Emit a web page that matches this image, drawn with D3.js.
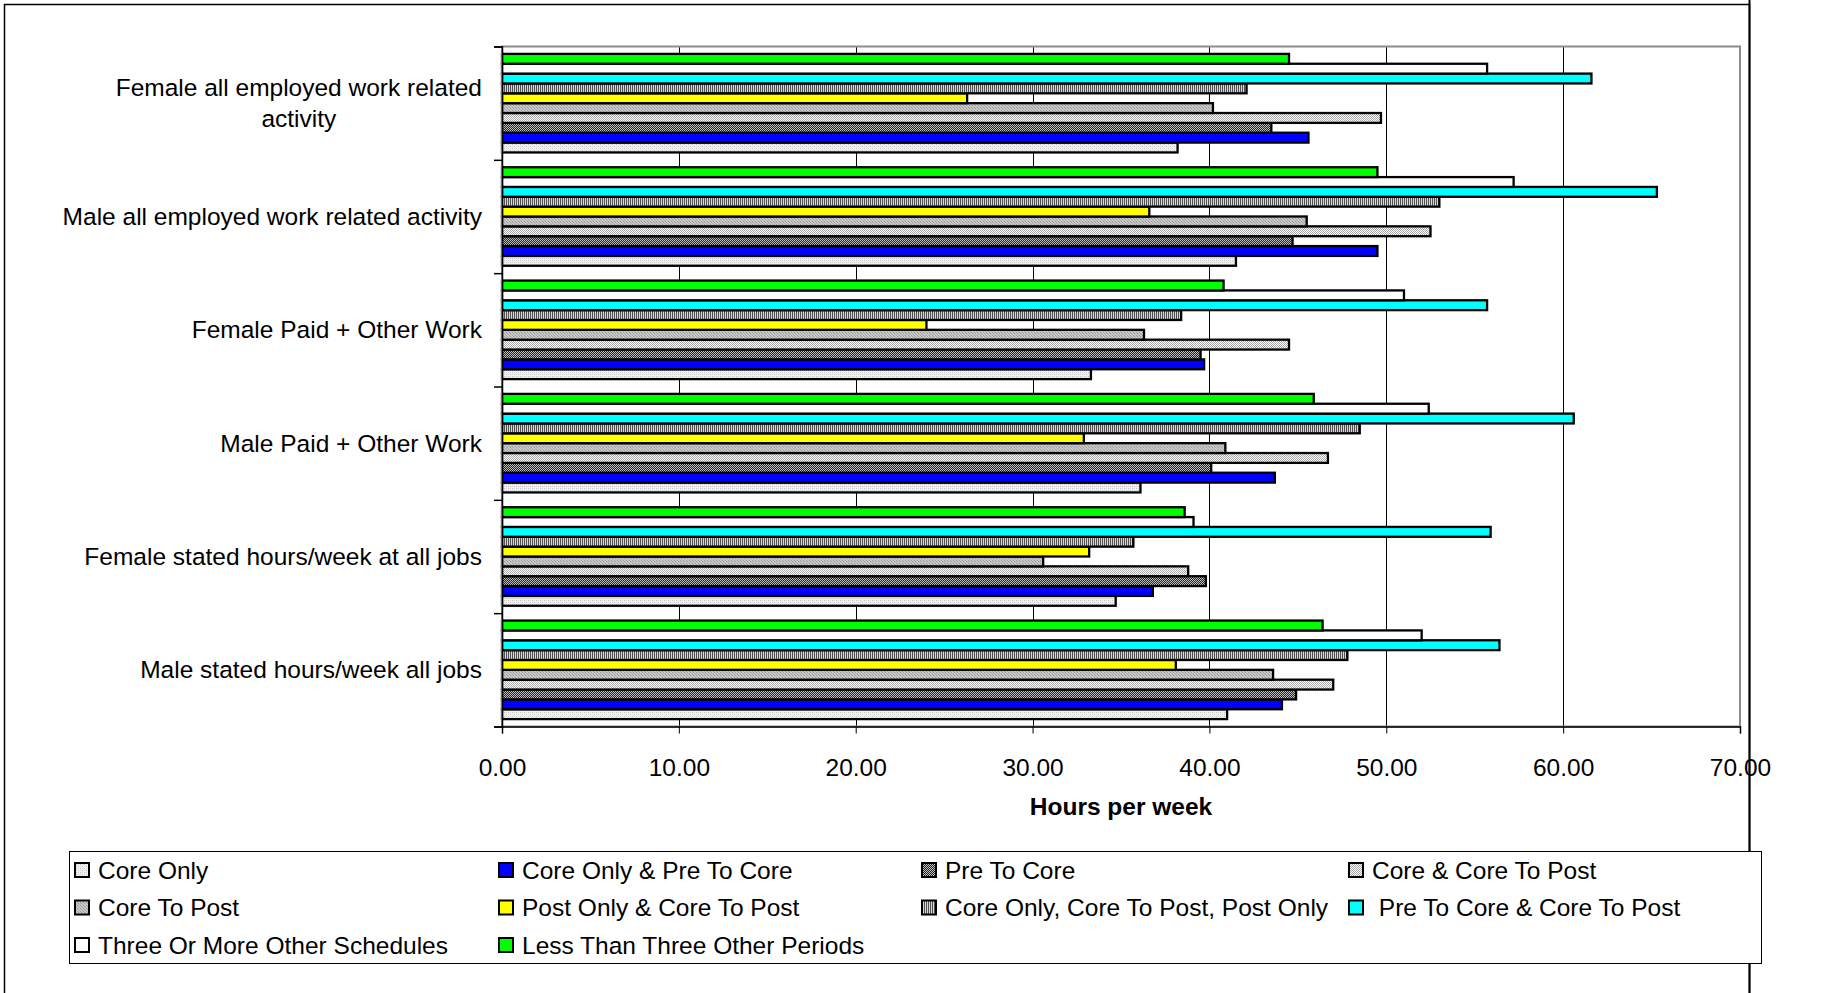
<!DOCTYPE html>
<html><head><meta charset="utf-8">
<script src="https://cdn.jsdelivr.net/npm/d3@7"></script>
<style>html,body{margin:0;padding:0;background:#fff;}svg{display:block;font-family:"Liberation Sans",Arial,sans-serif;}</style>
</head><body>
<svg id="chart" width="1832" height="993"></svg>
<script>
// ---- data (categories listed top to bottom) ----
const categories = [
  "Female all employed work related activity",
  "Male all employed work related activity",
  "Female Paid + Other Work",
  "Male Paid + Other Work",
  "Female stated hours/week at all jobs",
  "Male stated hours/week all jobs"
];
const seriesNames = [
  "Core Only",
  "Core Only & Pre To Core",
  "Pre To Core",
  "Core & Core To Post",
  "Core To Post",
  "Post Only & Core To Post",
  "Core Only, Core To Post, Post Only",
  " Pre To Core & Core To Post",
  "Three Or More Other Schedules",
  "Less Than Three Other Periods"
];
const coreOnly            = [38.2, 41.5, 33.3, 36.1, 34.7, 41.0];
const coreOnlyPreToCore   = [45.6, 49.5, 39.7, 43.7, 36.8, 44.1];
const preToCore           = [43.5, 44.7, 39.5, 40.1, 39.8, 44.9];
const coreCoreToPost      = [49.7, 52.5, 44.5, 46.7, 38.8, 47.0];
const coreToPost          = [40.2, 45.5, 36.3, 40.9, 30.6, 43.6];
const postOnlyCoreToPost  = [26.3, 36.6, 24.0, 32.9, 33.2, 38.1];
const coreOnlyCTPPostOnly = [42.1, 53.0, 38.4, 48.5, 35.7, 47.8];
const preToCoreCoreToPost = [61.6, 65.3, 55.7, 60.6, 55.9, 56.4];
const threeOrMore         = [55.7, 57.2, 51.0, 52.4, 39.1, 52.0];
const lessThanThree       = [44.5, 49.5, 40.8, 45.9, 38.6, 46.4];
const xTicks = [0, 10, 20, 30, 40, 50, 60, 70];
const xTitle = "Hours per week";

const seriesValues = [coreOnly, coreOnlyPreToCore, preToCore, coreCoreToPost, coreToPost,
  postOnlyCoreToPost, coreOnlyCTPPostOnly, preToCoreCoreToPost, threeOrMore, lessThanThree];
const fills = ["url(#pCoreOnly)", "#0000ff", "url(#pPreToCore)", "url(#pCoreCTP)", "url(#pCoreToPost)",
  "#ffff00", "url(#pVStripe)", "#00ffff", "#ffffff", "#00ff00"];

const FS = 24.5;
const svg = d3.select("#chart");
const defs = svg.append("defs");
function pat(id, w, h, bg, cells) {
  const p = defs.append("pattern").attr("id", id).attr("patternUnits", "userSpaceOnUse")
    .attr("width", w).attr("height", h);
  p.append("rect").attr("width", w).attr("height", h).attr("fill", bg);
  cells.forEach(c => p.append("rect").attr("x", c[0]).attr("y", c[1]).attr("width", c[2]).attr("height", c[3]).attr("fill", c[4]));
}
pat("pCoreOnly", 4, 4, "#f0f0f0", [[0,0,1,1,"#c4c4c4"],[2,2,1,1,"#c4c4c4"],[2,0,1,1,"#dcdcdc"],[0,2,1,1,"#dcdcdc"]]);
pat("pPreToCore", 2, 2, "#222222", [[0,0,1,1,"#c0c0c0"],[1,1,1,1,"#c0c0c0"]]);
pat("pCoreCTP", 2, 2, "#ffffff", [[0,0,1,1,"#a8a8a8"],[1,1,1,1,"#a8a8a8"]]);
pat("pCoreToPost", 3, 3, "#c8c8c8", [[0,0,1,1,"#9a9a9a"],[1,1,1,1,"#b0b0b0"],[2,2,1,1,"#9a9a9a"]]);
pat("pVStripe", 2, 2, "#d8d8d8", [[0,0,1,2,"#505050"]]);

// ---- outer frame ----
svg.append("rect").attr("x", 4.5).attr("y", 4.5).attr("width", 1745).attr("height", 1100)
  .attr("fill", "#fff").attr("stroke", "#000").attr("stroke-width", 1.5);
svg.append("line").attr("x1", 1749.5).attr("x2", 1749.5).attr("y1", 0).attr("y2", 993)
  .attr("stroke", "#000").attr("stroke-width", 2);

// ---- plot ----
const L = 502, R = 1740, T = 46.5, B = 726.5;
const x = d3.scaleLinear().domain([0, 70]).range([L, R]);
const y = d3.scaleBand().domain(categories).range([T, B]).padding(0);
const yInner = d3.scaleBand().domain(seriesNames.slice().reverse())
  .range([0, y.bandwidth()]).paddingInner(0).paddingOuter(0.75);

svg.append("rect").attr("x", L).attr("y", T).attr("width", R - L).attr("height", B - T).attr("fill", "#fff");

// gridlines
svg.append("g").selectAll("line").data(xTicks.filter(t => t > 0 && t < 70)).join("line")
  .attr("x1", d => Math.round(x(d)) + 0.5).attr("x2", d => Math.round(x(d)) + 0.5)
  .attr("y1", T).attr("y2", B).attr("stroke", "#000").attr("stroke-width", 1);

// bars
const rows = [];
seriesNames.forEach((s, si) => categories.forEach((c, ci) => rows.push({s, c, v: seriesValues[si][ci], fill: fills[si]})));
svg.append("g").selectAll("rect").data(rows).join("rect")
  .attr("x", x(0)).attr("y", d => y(d.c) + yInner(d.s))
  .attr("width", d => x(d.v) - x(0)).attr("height", yInner.bandwidth())
  .attr("fill", d => d.fill).attr("stroke", "#000").attr("stroke-width", 2.3);

// plot border
svg.append("rect").attr("x", L).attr("y", T).attr("width", R - L).attr("height", B - T)
  .attr("fill", "none").attr("stroke", "#8c8c8c").attr("stroke-width", 2);

// x axis
const xAxis = d3.axisBottom(x).tickValues(xTicks).tickFormat(d3.format(".2f")).tickSize(7);
const gx = svg.append("g").attr("transform", `translate(0,${B})`).call(xAxis);
gx.select(".domain").attr("stroke", "#000").attr("stroke-width", 1.5);
gx.selectAll(".tick line").attr("stroke", "#000");
gx.selectAll("text").attr("y", 41).attr("dy", "0.35em").attr("font-size", FS).attr("fill", "#000")
  .attr("font-family", "Liberation Sans, Arial, sans-serif");

// y axis
const yAxisScale = d3.scaleLinear().domain([0, categories.length]).range([T, B]);
const gy = svg.append("g").attr("transform", `translate(${L},0)`)
  .call(d3.axisLeft(yAxisScale).ticks(categories.length).tickSize(8).tickFormat(""));
gy.select(".domain").attr("stroke", "#000").attr("stroke-width", 1.5);
gy.selectAll(".tick line").attr("stroke", "#000").attr("stroke-width", 1.5);

// category labels
const labelLines = {
  "Female all employed work related activity": ["Female all employed work related", "activity"]
};
categories.forEach(c => {
  const lines = labelLines[c] || [c];
  const cy = y(c) + y.bandwidth() / 2;
  const lh = 31.5;
  const g = svg.append("g");
  const texts = lines.map((ln, i) => g.append("text")
    .attr("y", cy + (i - (lines.length - 1) / 2) * lh)
    .attr("dy", "0.35em").attr("font-size", FS).attr("fill", "#000").text(ln));
  const widths = texts.map(t => t.node().getComputedTextLength());
  const maxW = d3.max(widths);
  texts.forEach((t, i) => t.attr("x", 482 - maxW + (maxW - widths[i]) / 2));
});

// x title
svg.append("text").attr("x", (L + R) / 2).attr("y", 806).attr("dy", "0.35em")
  .attr("text-anchor", "middle").attr("font-size", FS).attr("font-weight", "bold").text(xTitle);

// legend
svg.append("rect").attr("x", 69.5).attr("y", 851.5).attr("width", 1692).attr("height", 112)
  .attr("fill", "#fff").attr("stroke", "#000").attr("stroke-width", 1);
const colX = [75, 499, 922, 1349];
const rowY = [870, 907.5, 945];
seriesNames.forEach((s, i) => {
  const cx = colX[i % 4], cy = rowY[Math.floor(i / 4)];
  svg.append("rect").attr("x", cx).attr("y", cy - 7).attr("width", 14).attr("height", 14)
    .attr("fill", fills[i]).attr("stroke", "#000").attr("stroke-width", 2);
  svg.append("text").attr("x", cx + 23).attr("y", cy).attr("dy", "0.35em")
    .attr("font-size", FS).attr("fill", "#000").style("white-space", "pre").text(s);
});
</script>
</body></html>
